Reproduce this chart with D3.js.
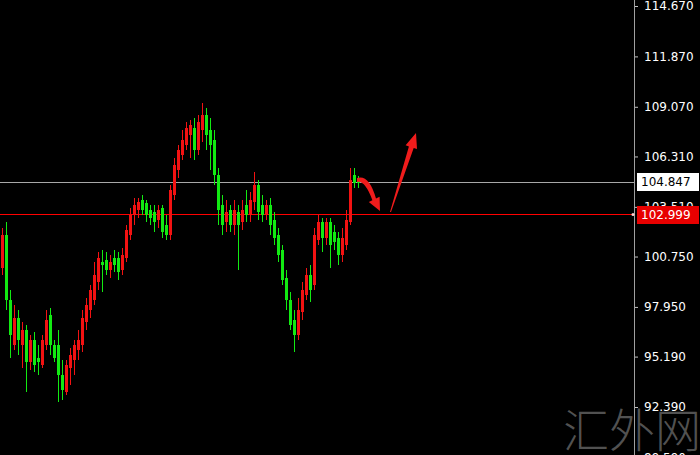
<!DOCTYPE html>
<html>
<head>
<meta charset="utf-8">
<script src="https://cdn.jsdelivr.net/npm/d3@7"></script>
<style>
  html, body { margin: 0; padding: 0; background: #000; }
  svg { display: block; }
</style>
</head>
<body>
<svg id="chart" width="700" height="455"></svg>
<script>
// OHLC (one bar every 4px)
var opens  = [100.11, 101.94, 98.33, 95.83, 97.33, 95.83, 96.67, 94.89, 96.11, 95.11,
              94.72, 95.83, 97.50, 95.83, 95.83, 94.17, 93.22, 94.55, 95.00, 95.55,
              95.83, 97.11, 97.78, 98.33, 99.33, 100.44, 100.55, 100.00, 100.67, 100.67,
              100.00, 100.67, 101.94, 103.06, 103.33, 103.89, 103.72, 103.33, 103.22, 102.78,
              103.44, 102.50, 101.94, 104.17, 105.56, 106.39, 106.94, 107.50, 107.89, 106.67,
              107.78, 108.61, 107.78, 107.22, 105.28, 103.61, 102.67, 103.33, 102.50, 103.22,
              102.67, 103.61, 103.06, 103.78, 104.72, 103.61, 103.06, 103.61, 102.78, 101.94,
              101.11, 99.55, 98.33, 97.22, 96.39, 97.66, 98.61, 99.72, 99.17, 101.67,
              102.67, 101.78, 102.67, 102.11, 101.78, 100.83, 101.39, 102.67, 105.28, 105.00],
    highs  = [102.33, 102.67, 98.89, 98.05, 97.78, 97.11, 96.94, 96.39, 96.55, 95.83,
              96.39, 97.78, 97.89, 96.11, 96.67, 95.00, 95.00, 95.67, 96.11, 96.67,
              97.78, 98.44, 99.17, 100.44, 101.00, 101.11, 101.00, 100.83, 101.11, 101.00,
              101.22, 102.50, 103.44, 104.00, 104.00, 104.17, 103.89, 103.61, 103.61, 103.61,
              103.61, 103.06, 104.72, 106.22, 106.94, 107.78, 108.22, 108.33, 108.44, 108.61,
              109.28, 109.00, 108.44, 107.78, 105.67, 104.17, 103.89, 103.61, 103.89, 103.61,
              103.89, 104.44, 104.33, 105.44, 105.00, 104.17, 103.89, 104.00, 103.22, 102.33,
              101.39, 100.00, 98.78, 97.78, 98.44, 99.33, 100.11, 100.28, 102.33, 103.06,
              102.89, 102.89, 102.89, 102.50, 102.11, 102.33, 103.33, 105.67, 105.67, 105.22],
    lows   = [99.72, 97.78, 95.11, 95.55, 95.28, 94.55, 93.22, 94.44, 94.33, 94.17,
              94.55, 95.55, 95.28, 94.89, 92.67, 92.78, 93.05, 93.61, 94.17, 95.00,
              95.44, 96.67, 97.33, 98.05, 98.89, 98.78, 99.72, 99.55, 99.89, 99.44,
              99.72, 100.44, 101.67, 102.50, 102.89, 103.06, 102.67, 102.50, 102.11, 102.33,
              101.78, 101.67, 101.67, 103.89, 105.11, 106.11, 106.67, 106.22, 106.11, 106.39,
              107.11, 106.67, 105.56, 104.72, 102.50, 101.94, 102.11, 102.11, 101.94, 100.00,
              102.22, 102.67, 102.67, 103.33, 102.78, 102.67, 102.78, 101.94, 101.39, 100.44,
              99.17, 97.78, 96.67, 95.44, 96.11, 97.22, 98.33, 98.22, 98.89, 101.39,
              101.00, 101.39, 100.11, 101.11, 100.28, 100.44, 101.11, 102.50, 104.56, 104.56],
    closes = [101.94, 98.33, 96.39, 97.33, 96.11, 96.67, 94.89, 96.11, 94.72, 94.89,
              96.11, 97.22, 95.83, 95.11, 94.17, 93.33, 94.72, 95.28, 95.83, 96.11,
              97.33, 98.05, 98.89, 99.72, 100.67, 100.28, 100.00, 100.44, 100.28, 99.89,
              100.83, 102.22, 103.06, 103.61, 103.78, 103.33, 103.06, 102.89, 102.67, 103.33,
              102.11, 101.94, 104.44, 105.83, 106.67, 107.22, 107.89, 108.06, 106.67, 108.22,
              108.61, 107.50, 106.94, 105.28, 103.33, 102.50, 103.22, 102.50, 103.33, 102.50,
              103.33, 103.06, 103.89, 104.72, 103.22, 103.06, 103.61, 102.50, 101.78, 100.83,
              99.44, 98.33, 96.94, 96.39, 97.78, 98.89, 99.72, 98.89, 101.94, 102.67,
              101.78, 102.67, 101.39, 101.55, 100.83, 101.78, 102.78, 105.00, 104.83, 104.85];

var priceTicks = [114.670, 111.870, 109.070, 106.310, 103.510, 100.750, 97.950, 95.190, 92.390, 89.590];
var bidPrice = 104.847,
    levelPrice = 102.999;

var svg = d3.select('#chart'),
    width = +svg.attr('width'),
    height = +svg.attr('height'),
    axisX = 634;

var bars = opens.map(function(o, i) {
  return {i: i, open: o, high: highs[i], low: lows[i], close: closes[i]};
});

var x = d3.scaleBand()
          .domain(bars.map(function(d) { return d.i; }))
          .range([0, bars.length * 4])
          .paddingInner(0.25)
          .paddingOuter(0.125);

var y = d3.scaleLinear()
          .domain([92.39, 114.67])
          .range([407, 6]);

svg.append('rect')
   .attr('width', width)
   .attr('height', height)
   .attr('fill', '#000');

// horizontal lines
var bidY = Math.round(y(bidPrice)) - 0.5,
    levelY = Math.round(y(levelPrice)) - 1.5;

svg.append('line')
   .attr('x1', 0).attr('x2', axisX)
   .attr('y1', bidY).attr('y2', bidY)
   .attr('stroke', '#a8a8a8')
   .attr('shape-rendering', 'crispEdges');

svg.append('line')
   .attr('x1', 0).attr('x2', axisX)
   .attr('y1', levelY).attr('y2', levelY)
   .attr('stroke', '#ff0000')
   .attr('shape-rendering', 'crispEdges');

// candles
var candle = svg.append('g')
                .attr('shape-rendering', 'crispEdges')
                .selectAll('g')
                .data(bars)
                .enter().append('g')
                .attr('fill', function(d) { return d.close >= d.open ? '#f21212' : '#12ea12'; });

candle.append('rect')
      .attr('x', function(d) { return x(d.i) + 1; })
      .attr('width', 1)
      .attr('y', function(d) { return y(d.high); })
      .attr('height', function(d) { return y(d.low) - y(d.high); });

candle.append('rect')
      .attr('x', function(d) { return x(d.i); })
      .attr('width', x.bandwidth())
      .attr('y', function(d) { return y(Math.max(d.open, d.close)); })
      .attr('height', function(d) { return Math.max(1, Math.abs(y(d.open) - y(d.close))); });

// arrows
svg.append('path')
   .attr('d', 'M357,178 Q369,174 376,198.5 L379.6,196.7 L380,211 L368.8,202.1 L372.4,200.3 Q365,180 357,182 Z')
   .attr('fill', '#f01c1c');
svg.append('path')
   .attr('d', 'M390,212 L408.9,146.4 L405.6,145.3 L416,133 L417,149.1 L413.7,148 L391,212 Z')
   .attr('fill', '#f01c1c');

// right axis
svg.append('line')
   .attr('x1', axisX + 0.5).attr('x2', axisX + 0.5)
   .attr('y1', 0).attr('y2', height)
   .attr('stroke', '#a0a0a0');

var yAxis = svg.append('g')
               .attr('transform', 'translate(' + (axisX + 1) + ',0)')
               .call(d3.axisRight(y)
                       .tickValues(priceTicks)
                       .tickFormat(d3.format('.3f'))
                       .tickSize(3)
                       .tickPadding(6));
yAxis.select('.domain').remove();
yAxis.selectAll('line').attr('stroke', '#c0c0c0');
yAxis.selectAll('text')
     .attr('fill', '#fff')
     .style('font-family', 'DejaVu Sans, sans-serif')
     .style('font-size', '12px');

// price tags
function priceTag(v, bg, fg) {
  var cy = Math.round(y(v)) - 1;
  svg.append('rect')
     .attr('x', axisX + 3).attr('y', cy - 9)
     .attr('width', 62).attr('height', 18)
     .attr('fill', bg);
  svg.append('text')
     .attr('x', axisX + 7).attr('y', cy)
     .attr('dy', '0.36em')
     .attr('fill', fg)
     .style('font-family', 'DejaVu Sans, sans-serif')
     .style('font-size', '12px')
     .text(d3.format('.3f')(v));
}
priceTag(bidPrice, '#fff', '#000');
priceTag(levelPrice, '#e80000', '#fff');

svg.append('circle')
   .attr('cx', axisX - 1).attr('cy', levelY)
   .attr('r', 1.5)
   .attr('fill', '#ffd0d0');

// watermark
svg.append('text')
   .attr('x', 632).attr('y', 447)
   .attr('text-anchor', 'middle')
   .attr('fill', '#8a8a8a')
   .attr('fill-opacity', 0.6)
   .style('font-family', 'Noto Sans CJK SC, sans-serif')
   .style('font-weight', 300)
   .style('font-size', '46px')
   .text('汇外网');
</script>
</body>
</html>
